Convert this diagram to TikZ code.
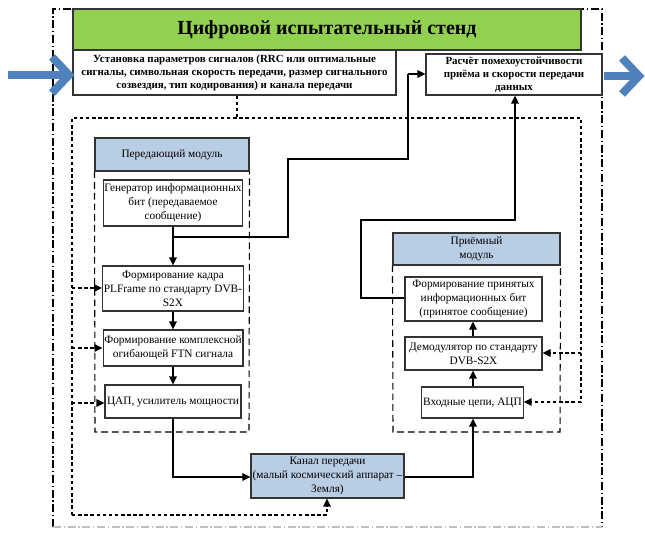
\documentclass[tikz,border=0pt]{standalone}
\usepackage{fontspec}
\setmainfont{Liberation Serif}
\usetikzlibrary{arrows.meta}
\definecolor{titlegreen}{HTML}{92D050}
\definecolor{hdrblue}{HTML}{B9CDE5}
\definecolor{arrblue}{HTML}{4F81BD}
\tikzset{
  box/.style={draw=black!80, fill=white, line width=0.8pt, align=center, inner sep=1pt,
    font=\fontsize{8.5}{10.5}\selectfont},
  bbox/.style={box, font=\bfseries\fontsize{8.2}{9.8}\selectfont},
  hdr/.style={box, fill=hdrblue},
  flow/.style={line width=1.5pt, -{Triangle[length=6pt,width=5.5pt]}},
  flowline/.style={line width=1.5pt},
  ctrl/.style={line width=1.4pt, dash pattern=on 2.6pt off 2pt, -{Triangle[length=6pt,width=5.5pt]}},
  ctrlline/.style={line width=1.4pt, dash pattern=on 2.6pt off 2pt},
  modframe/.style={line width=0.8pt, dash pattern=on 5pt off 3pt},
  frame/.style={line width=0.8pt, dash pattern=on 6pt off 2pt on 1pt off 2pt},
  bigarrow/.style={line width=6pt, arrblue, miter limit=10},
}
\begin{document}
\begin{tikzpicture}[x=0.75pt, y=-0.75pt]
\useasboundingbox (0,0) rectangle (645,537);

% outer frame
\draw[frame] (53,527) -- (53,9) -- (602,9) -- (602,527);
\draw[frame, black!25] (53,527) -- (602,527);

% title and top boxes
\node[box, fill=titlegreen, minimum width={508*0.75pt}, minimum height={41*0.75pt},
  font=\bfseries\fontsize{15}{18}\selectfont] (title) at (327,29.5) {Цифровой испытательный стенд};
\node[bbox, minimum width={323*0.75pt}, minimum height={45*0.75pt}] (param) at (234.5,72.5)
  {Установка параметров сигналов (RRC или оптимальные\\сигналы, символьная скорость передачи, размер сигнального\\созвездия, тип кодирования) и канала передачи};
\node[bbox, minimum width={176*0.75pt}, minimum height={41*0.75pt}] (calc) at (514,74.5)
  {Расчёт помехоустойчивости\\приёма и скорости передачи\\данных};

% big blue arrows
\draw[bigarrow] (8,75) -- (66,75);
\draw[bigarrow] (52,57) -- (69,75) -- (52,93);
\draw[bigarrow] (604,76) -- (637,76);
\draw[bigarrow] (622,58) -- (639,76) -- (622,94);

% transmitter module
\node[hdr, minimum width={154*0.75pt}, minimum height={33*0.75pt}] (txh) at (172,154.5) {Передающий модуль};
\draw[modframe] (txh.south west) -- (95,432) -- (249,432) -- (txh.south east);
\node[box, minimum width={136*0.75pt}, minimum height={46*0.75pt}] (gen) at (173,203)
  {Генератор информационных\\бит (передаваемое\\сообщение)};
\node[box, minimum width={136*0.75pt}, minimum height={45*0.75pt}] (frm) at (173,288.5)
  {Формирование кадра\\PLFrame по стандарту DVB-\\S2X};
\node[box, minimum width={136*0.75pt}, minimum height={36*0.75pt}] (env) at (173,348)
  {Формирование комплексной\\огибающей FTN сигнала};
\node[box, minimum width={136*0.75pt}, minimum height={33*0.75pt}] (dac) at (173,401.5)
  {ЦАП, усилитель мощности};

% receiver module
\node[hdr, minimum width={167*0.75pt}, minimum height={32*0.75pt}] (rxh) at (476.5,249) {Приёмный\\модуль};
\draw[modframe] (rxh.south west) -- (393,432) -- (560,432) -- (rxh.south east);
\node[box, minimum width={137*0.75pt}, minimum height={44*0.75pt}] (rxb) at (473.5,299)
  {Формирование принятых\\информационных бит\\(принятое сообщение)};
\node[box, minimum width={137*0.75pt}, minimum height={33*0.75pt}] (dem) at (473.5,353.5)
  {Демодулятор по стандарту\\DVB-S2X};
\node[box, minimum width={99*0.75pt}, minimum height={31*0.75pt}] (adc) at (472.5,402.5)
  {Входные цепи, АЦП};

% channel
\node[hdr, minimum width={153*0.75pt}, minimum height={44*0.75pt}] (chan) at (327.5,476)
  {Канал передачи\\(малый космический аппарат –\\Земля)};

% control (dotted) lines
\coordinate (ctop) at (237,118);
\draw[ctrlline] (param.south -| ctop) -- (ctop);
\draw[ctrlline] (72,515) -- (72,118) -- (581,118) -- (581,402);
\draw[ctrl] (72,515) -- (327,515) -- (chan.south -| 327,0);
\draw[ctrl] (72,288) -- (frm.west |- 0,288);
\draw[ctrl] (72,348) -- (env.west |- 0,348);
\draw[ctrl] (72,403) -- (dac.west |- 0,403);
\draw[ctrl] (581,353) -- (dem.east |- 0,353);
\draw[ctrl] (581,402) -- (adc.east |- 0,402);

% signal flow
\draw[flow] (gen.south) -- (frm.north);
\draw[flowline] (173,237) -- (288,237) -- (288,159) -- (408,159) -- (408,74);
\draw[flow] (408,74) -- (calc.west |- 0,74);
\draw[flow] (frm.south) -- (env.north);
\draw[flow] (env.south) -- (dac.north);
\draw[flow] (dac.south) -- (173,477) -- (chan.west |- 0,477);
\draw[flow] (chan.east |- 0,477) -- (473,477) -- (adc.south -| 473,0);
\draw[flow] (adc.north -| 473,0) -- (dem.south -| 473,0);
\draw[flow] (dem.north -| 473,0) -- (rxb.south -| 473,0);
\draw[flow] (rxb.west |- 0,298) -- (361,298) -- (361,220) -- (515,220) -- (calc.south -| 515,0);
\end{tikzpicture}
\end{document}
